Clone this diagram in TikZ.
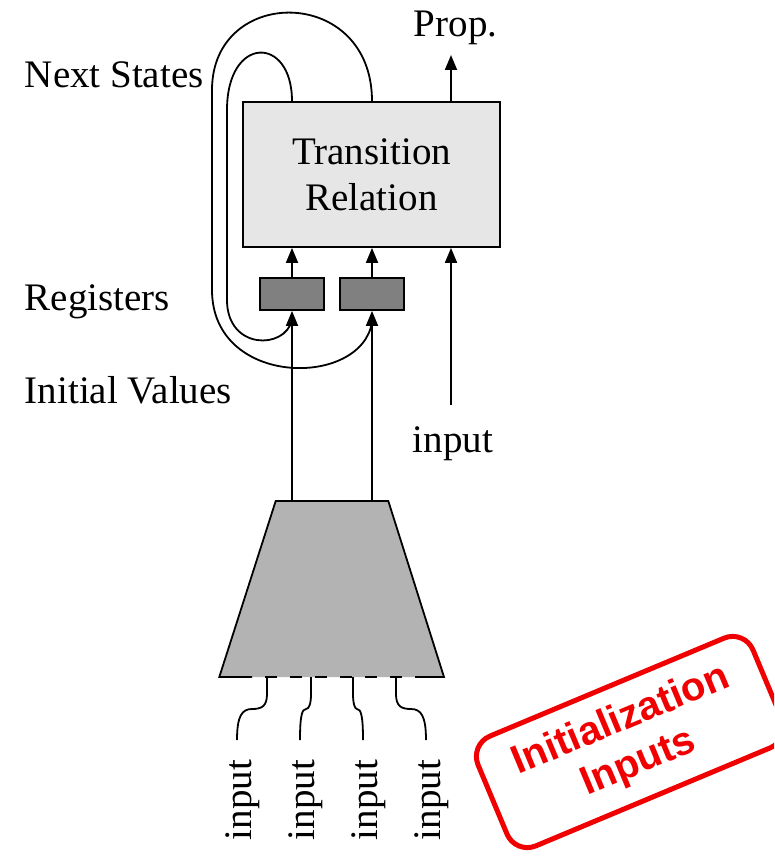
\documentclass[tikz,border=0pt]{standalone}
\usepackage{fontspec}
\setmainfont{Liberation Serif}
\newfontfamily\stampfont{Liberation Sans}
\usetikzlibrary{arrows.meta}

\definecolor{boxgray}{HTML}{E6E6E6}
\definecolor{reggray}{HTML}{808080}
\definecolor{muxgray}{HTML}{B3B3B3}
\definecolor{stampred}{HTML}{F00000}

\begin{document}
\begin{tikzpicture}[x=1pt,y=-1pt,line width=1.8pt,
  tip/.style={-{Triangle[length=15pt,width=12pt]}},
  lbl/.style={font=\fontsize{39}{46}\selectfont,inner sep=0pt},
  regbox/.style={draw,fill=reggray,minimum width=64pt,minimum height=32pt,inner sep=0pt},
  wire/.style={line width=1.8pt}]
\useasboundingbox (0,0) rectangle (774,856);

% transition relation block
\node[draw,fill=boxgray,minimum width=257pt,minimum height=145pt,
      align=center,lbl] (trans) at (371.5,174.5) {Transition\\Relation};

% registers
\node[regbox] (reg1) at (292,294) {};
\node[regbox] (reg2) at (372,294) {};

% side labels
\node[lbl,anchor=base west] (lnext) at (24,88) {Next States};
\node[lbl,anchor=base west] (lreg) at (24,310) {Registers};
\node[lbl,anchor=base west] (linit) at (24,403) {Initial Values};
\node[lbl,anchor=base west] (lprop) at (413,37) {Prop.};
\node[lbl,anchor=base west] (lin) at (412,452) {input};

% initialisation multiplexer
\coordinate (mtl) at (275.7,501);
\coordinate (mtr) at (388.3,501);
\coordinate (mbr) at (444,677);
\coordinate (mbl) at (219.3,677);
\fill[muxgray] (mtl) -- (mtr) -- (mbr) -- (mbl) -- cycle;
\draw[line join=miter] (252,677) -- (mbl) -- (mtl) -- (mtr) -- (mbr) -- (415,677);
\draw[dash pattern=on 12pt off 13pt,dash phase=12pt] (252,677) -- (415,677);
\coordinate (mo1) at (292,501);
\coordinate (mo2) at (372,501);

% register outputs into the transition relation
\draw[tip] (reg1.north) -- (reg1.north |- trans.south);
\draw[tip] (reg2.north) -- (reg2.north |- trans.south);

% initial values into the registers
\draw[tip] (mo1) -- (reg1.south);
\draw[tip] (mo2) -- (reg2.south);

% free input and property output
\coordinate (inp) at (451,405);
\coordinate (prop) at (451,55);
\draw[tip] (inp) -- (inp |- trans.south);
\draw[tip] (trans.north -| prop) -- (prop);

% next-state feedback loops
\draw (trans.north -| reg1) .. controls (292,35) and (227,35) .. (227,110)
      -- (227,300) .. controls (227,350) and (285,350) .. (292,320);
\draw (trans.north -| reg2) .. controls (372,-15) and (212,-15) .. (212,90)
      -- (212,290) .. controls (212,388) and (362,388) .. (372,322);

% multiplexer inputs
\draw[wire] (267,677) -- (267,694) .. controls (267,706) and (262,709) .. (252,709)
      .. controls (242,709) and (237,716) .. (237,740);
\draw[wire] (311,677) -- (311,694) .. controls (311,704) and (309,709) .. (306,709)
      .. controls (302,709) and (300,716) .. (300,740);
\draw[wire] (353,677) -- (353,694) .. controls (353,704) and (355,709) .. (357,709)
      .. controls (361,709) and (363,716) .. (363,740);
\draw[wire] (396,677) -- (396,694) .. controls (396,706) and (401,709) .. (411,709)
      .. controls (421,709) and (426,716) .. (426,740);

\node[lbl,rotate=90] (in1) at (243,800) {input};
\node[lbl,rotate=90] (in2) at (306,800) {input};
\node[lbl,rotate=90] (in3) at (369,800) {input};
\node[lbl,rotate=90] (in4) at (432,800) {input};

% stamp
\begin{scope}
\clip (0,0) rectangle (774,856);
\node[draw=stampred,line width=5pt,rounded corners=22pt,
      minimum width=298pt,minimum height=119pt,rotate=22.7,
      text=stampred,align=center,
      font=\stampfont\bfseries\fontsize{40}{46}\selectfont] (stamp) at (630,742)
      {Initialization\\Inputs};
\end{scope}
\end{tikzpicture}
\end{document}
